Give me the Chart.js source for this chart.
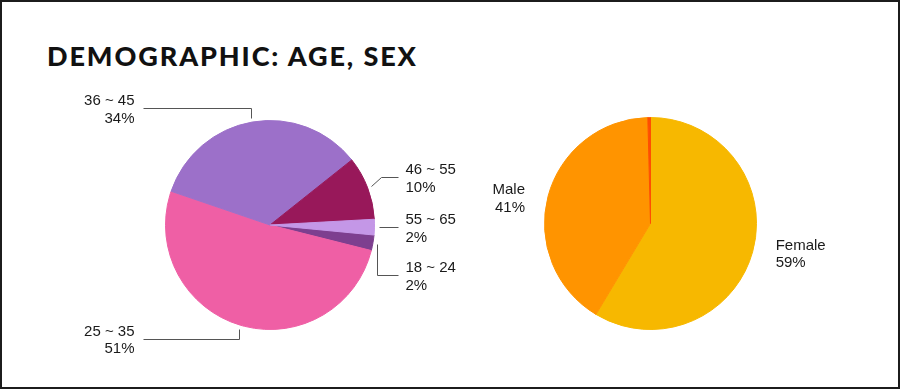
<!DOCTYPE html>
<html><head><meta charset="utf-8">
<script src="https://cdn.jsdelivr.net/npm/chart.js@4.4.1/dist/chart.umd.min.js"></script>
<style>
html,body{margin:0;padding:0;background:#fff;}
#frame{position:relative;width:900px;height:389px;overflow:hidden;background:#fff;}
#border{position:absolute;left:0;top:0;width:900px;height:389px;box-sizing:border-box;border:2px solid #1c1c1c;pointer-events:none;}
#title{position:absolute;left:47px;top:42px;font-family:Lato,"DejaVu Sans",sans-serif;font-weight:900;font-size:27px;letter-spacing:1.9px;line-height:27px;color:#111;white-space:nowrap;}
canvas{position:absolute;left:0;top:0;}
</style></head><body>
<div id="frame">
<div id="title">DEMOGRAPHIC: AGE, SEX</div>
<canvas id="age" width="900" height="389"></canvas>
<canvas id="sex" width="900" height="389"></canvas>
<div id="border"></div>
</div>
<script>
// ---- data ----
const ageCategories = ['18 ~ 24', '25 ~ 35', '36 ~ 45', '46 ~ 55', '55 ~ 65'];
const ageValues = [2.4, 51.2, 34.0, 9.8, 2.4];
const sexCategories = ['Female', 'Male', 'Other'];
const sexValues = [58.6, 41.0, 0.4];

// ---- styles ----
const ageColors = ['#7d3f8f', '#ef5fa5', '#9c70c9', '#98185a', '#c497e7'];
const sexColors = ['#f7b800', '#ff9400', '#ff4e00'];

const labelStyle = {
  font: '15px "Liberation Sans", Arial, sans-serif',
  color: '#1a1a1a',
  lineColor: '#555',
  lineReach: 23,
  textGap: 8,
  freeGap: 23
};

function makeSliceLabels(items) {
  return {
    id: 'sliceLabels',
    afterDraw(chart) {
      const opts = labelStyle;
      const ctx = chart.ctx;
      const meta = chart.getDatasetMeta(0);
      const data = chart.data.datasets[0].data;
      const total = data.reduce((a, b) => a + b, 0);
      ctx.save();
      ctx.font = opts.font;
      ctx.fillStyle = opts.color;
      ctx.strokeStyle = opts.lineColor;
      ctx.lineWidth = 1;
      meta.data.forEach((arc, i) => {
        const cfg = items[i];
        if (!cfg || cfg.hidden) return;
        const p = arc.getProps(['x', 'y', 'startAngle', 'endAngle', 'outerRadius'], true);
        const mid = (p.startAngle + p.endAngle) / 2;
        const sign = cfg.side === 'left' ? -1 : 1;
        const pct = Math.round(data[i] / total * 100) + '%';
        const text = [chart.data.labels[i], pct];
        let tx, ly;
        if (cfg.leader) {
          const rr = p.outerRadius + cfg.gap;
          const ax = p.x + Math.cos(mid) * rr, ay = p.y + Math.sin(mid) * rr;
          const ex = ax + cfg.dx, ey = ay + cfg.dy;
          const endX = p.x + sign * (p.outerRadius + opts.lineReach);
          const r = v => Math.round(v) + 0.5;
          ctx.beginPath();
          ctx.moveTo(r(ax), r(ay));
          ctx.lineTo(r(ex), r(ey));
          ctx.lineTo(r(endX), r(ey));
          ctx.stroke();
          tx = endX + sign * opts.textGap;
          ly = ey;
        } else {
          const ax = p.x + Math.cos(mid) * p.outerRadius, ay = p.y + Math.sin(mid) * p.outerRadius;
          tx = ax + sign * opts.freeGap;
          ly = ay + 1;
        }
        ctx.textAlign = cfg.side === 'left' ? 'right' : 'left';
        ctx.textBaseline = 'alphabetic';
        ctx.fillText(text[0], tx, ly - 3);
        ctx.fillText(text[1], tx, ly + 14.5);
      });
      ctx.restore();
    }
  };
}

const baseOpts = (pad, rotation) => ({
  responsive: false,
  animation: false,
  rotation: rotation,
  layout: { padding: pad },
  plugins: { legend: { display: false }, tooltip: { enabled: false } }
});

new Chart(document.getElementById('age'), {
  type: 'pie',
  data: {
    labels: ageCategories,
    datasets: [{ data: ageValues, backgroundColor: ageColors, borderColor: ageColors, borderWidth: 1 }]
  },
  options: baseOpts({ left: 165, top: 120, right: 525, bottom: 59 }, 95.5),
  plugins: [makeSliceLabels([
    { side: 'right', leader: true, gap: 4, dx: 0, dy: 31.5 },
    { side: 'left', leader: true, gap: 4, dx: 0, dy: 9.5 },
    { side: 'left', leader: true, gap: 4, dx: 0, dy: -10 },
    { side: 'right', leader: true, gap: 4, dx: 10, dy: -9 },
    { side: 'right', leader: true, gap: 5, dx: 0, dy: 0 }
  ])]
});

new Chart(document.getElementById('sex'), {
  type: 'pie',
  data: {
    labels: sexCategories,
    datasets: [{ data: sexValues, backgroundColor: sexColors, borderColor: sexColors, borderWidth: 1 }]
  },
  options: baseOpts({ left: 544, top: 117, right: 143, bottom: 59 }, 0),
  plugins: [makeSliceLabels([
    { side: 'right', leader: false },
    { side: 'left', leader: false },
    { hidden: true }
  ])]
});
</script>
</body></html>
